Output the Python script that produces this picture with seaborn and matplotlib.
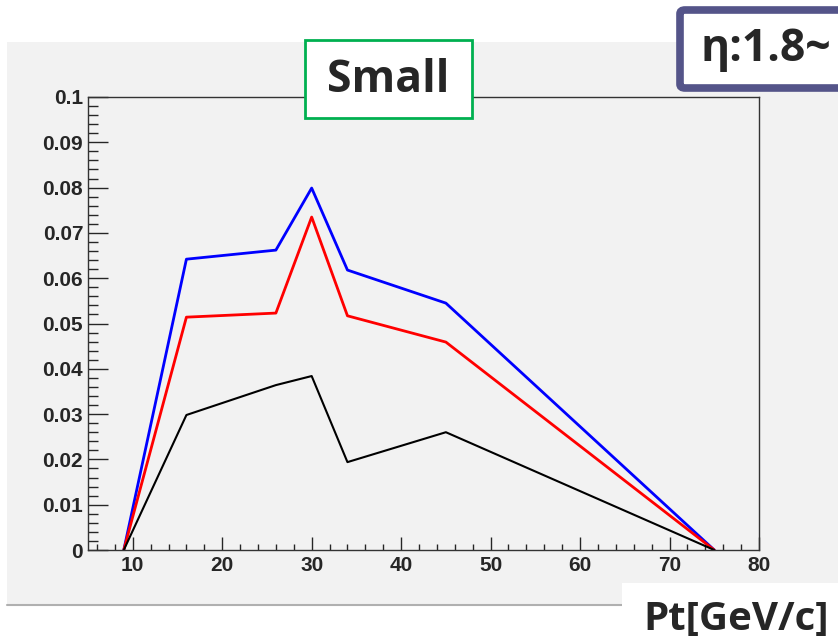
import numpy as np
import pandas as pd
import seaborn as sns
import matplotlib.pyplot as plt
from matplotlib.patches import Rectangle, FancyBboxPatch
from matplotlib.ticker import MultipleLocator, FuncFormatter

# data
pt = [9, 16, 26, 30, 34, 45, 75]
blue_vals = [0.0, 0.0642, 0.0662, 0.0799, 0.0618, 0.0545, 0.0]
red_vals = [0.0, 0.0514, 0.0523, 0.0735, 0.0517, 0.0459, 0.0]
black_vals = [0.0, 0.0298, 0.0364, 0.0384, 0.0194, 0.0260, 0.0]

series = {"blue": blue_vals, "red": red_vals, "black": black_vals}
widths = {"blue": 2.0, "red": 2.0, "black": 1.5}

df = pd.concat([pd.DataFrame({"pt": pt, "val": v, "name": k}) for k, v in series.items()])

sns.set_style("ticks")
plt.rcParams["font.family"] = ["Liberation Sans", "DejaVu Sans"]

W, H = 838, 643
fig = plt.figure(figsize=(W / 100, H / 100), dpi=100, facecolor="white")


def box(x0, y0, x1, y1):
    # pixel box (top-left origin) -> figure fraction
    return x0 / W, 1 - y1 / H, (x1 - x0) / W, (y1 - y0) / H


bg = "#f2f2f2"
# ROOT canvas background
x, y, w, h = box(7, 42, W, 605)
fig.add_artist(Rectangle((x, y), w, h, transform=fig.transFigure, facecolor=bg,
                         edgecolor="none", zorder=-2))
fig.add_artist(plt.Line2D([7 / W, 1], [1 - 605 / H, 1 - 605 / H], transform=fig.transFigure,
                          color="#b0b0b0", lw=1.5, zorder=-1))

ax = fig.add_axes([88 / W, 1 - 550 / H, (759 - 88) / W, (550 - 97) / H])
ax.set_facecolor(bg)

for name in series:
    sub = df[df["name"] == name]
    sns.lineplot(data=sub, x="pt", y="val", color=name, lw=widths[name],
                 sort=False, estimator=None, ax=ax, legend=False)

ax.set_xlim(5, 80)
ax.set_ylim(0, 0.1)
ax.set_xlabel("")
ax.set_ylabel("")
ax.xaxis.set_major_locator(MultipleLocator(10))
ax.xaxis.set_minor_locator(MultipleLocator(2))
ax.yaxis.set_major_locator(MultipleLocator(0.01))
ax.yaxis.set_minor_locator(MultipleLocator(0.002))
ax.yaxis.set_major_formatter(FuncFormatter(lambda v, p: "%g" % round(v, 3)))
ax.xaxis.set_major_formatter(FuncFormatter(lambda v, p: "%g" % v))

ax.tick_params(axis="x", which="major", direction="in", length=9.5, width=1, pad=4.5)
ax.tick_params(axis="x", which="minor", direction="in", length=4.5, width=1)
ax.tick_params(axis="y", which="major", direction="in", length=14.5, width=1, pad=3.5)
ax.tick_params(axis="y", which="minor", direction="in", length=7.5, width=1)
for lab in ax.get_xticklabels() + ax.get_yticklabels():
    lab.set_fontsize(15)
    lab.set_fontweight("bold")
for s in ax.spines.values():
    s.set_visible(True)
    s.set_color("#333333")
    s.set_linewidth(1)

title_font = ["Open Sans", "DejaVu Sans"]

# "Small" label box
x, y, w, h = box(305, 40, 472, 118)
fig.add_artist(Rectangle((x, y), w, h, transform=fig.transFigure, facecolor="white",
                         edgecolor="#00b050", lw=2, zorder=5))
fig.text(388 / W, 1 - 80 / H, "Small", ha="center", va="center", fontsize=32,
         fontweight="bold", family=title_font, zorder=6)

# eta label box, runs off the right edge
x, y, w, h = box(680, 10, 900, 88)
fig.add_artist(FancyBboxPatch((x, y), w, h, boxstyle="round,pad=0,rounding_size=0.006",
                              transform=fig.transFigure, facecolor="white",
                              edgecolor="#545489", lw=5.5, zorder=5))
fig.text(700 / W, 1 - 50 / H, "η:1.8~", ha="left", va="center", fontsize=32,
         fontweight="bold", family=title_font, zorder=6)

# x axis title on white patch
x, y, w, h = box(622, 583, W, H)
fig.add_artist(Rectangle((x, y), w, h, transform=fig.transFigure, facecolor="white",
                         edgecolor="none", zorder=5))
fig.text(736 / W, 1 - 620 / H, "Pt[GeV/c]", ha="center", va="center", fontsize=29,
         fontweight="bold", family=title_font, zorder=6)

fig.savefig("out.png", dpi=100, facecolor="white")
